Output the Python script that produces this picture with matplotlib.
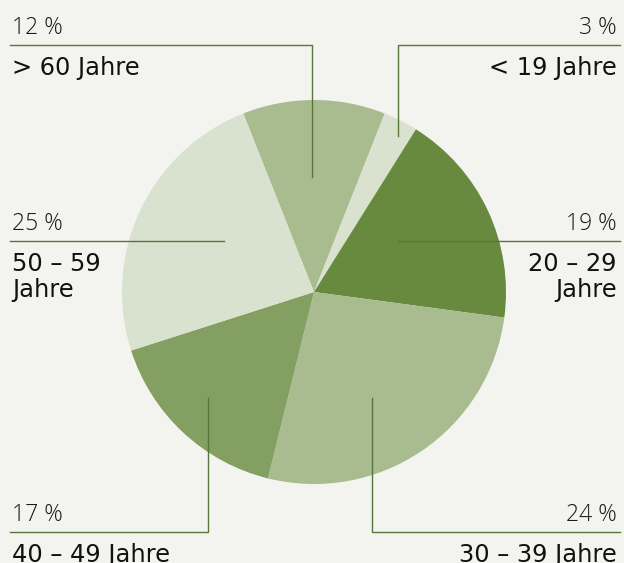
import matplotlib.pyplot as plt

# data, clockwise from the top
groups = ["> 60 Jahre", "< 19 Jahre", "20 – 29\nJahre", "30 – 39 Jahre", "40 – 49 Jahre", "50 – 59\nJahre"]
shares = [12, 3, 19, 24, 17, 25]
# wedge sizes as drawn in the picture (the artwork is not exactly proportional)
wedge_sizes = [12.0, 2.9, 18.2, 26.7, 16.2, 23.9]
colors = ["#a9bc8f", "#d9e1cf", "#678a3e", "#a9bc8f", "#839f61", "#d9e1cf"]

W, H = 624, 563
bg = "#f3f4f0"
line_col = "#56763a"

fig = plt.figure(figsize=(W / 100, H / 100), dpi=100, facecolor=bg)
ax = fig.add_axes([0, 0, 1, 1])

cx, cy, r = 314, H - 292, 192
start = 90 + wedge_sizes[0] / sum(wedge_sizes) * 360 / 2
ax.pie(wedge_sizes, colors=colors, startangle=start, counterclock=False,
       center=(cx, cy), radius=r, frame=True,
       wedgeprops=dict(linewidth=0))
ax.set_xlim(0, W)
ax.set_ylim(0, H)
ax.set_aspect("equal")
ax.axis("off")

# leader lines: (line y, outer x, inner x, inner y, side)
leaders = [
    (45, 10, 312, 177, "left"),
    (45, 620, 398, 136, "right"),
    (241, 620, 398, 241, "right"),
    (532, 620, 372, 398, "right"),
    (532, 10, 208, 398, "left"),
    (241, 10, 224, 241, "left"),
]

for (ly, ox, ix, iy, side), grp, pct in zip(leaders, groups, shares):
    ax.plot([ox, ix, ix], [H - ly, H - ly, H - iy], color=line_col, lw=1.0,
            solid_joinstyle="miter")
    tx = ox + (2 if side == "left" else -3)
    ax.text(tx, H - ly + 11, f"{pct} %", ha=side, va="baseline",
            fontsize=16.5, family="Open Sans", weight="light", color="#1a1a1a")
    ax.text(tx, H - ly - 11, grp, ha=side, va="top", fontsize=17.4,
            family="DejaVu Sans", color="#111111", linespacing=1.08)

fig.savefig("out.png", dpi=100, facecolor=bg)
